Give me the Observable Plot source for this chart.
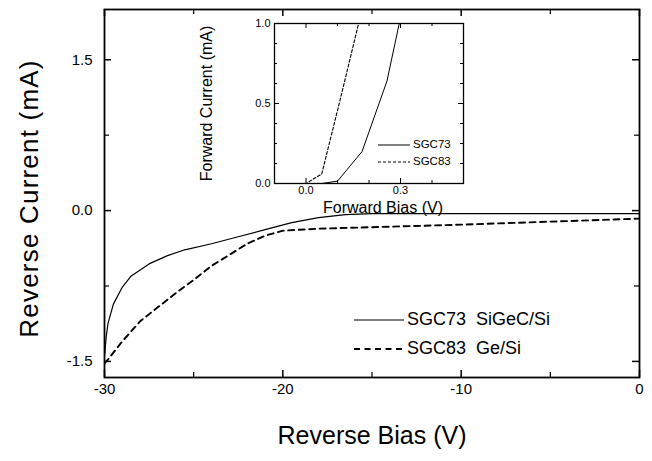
<!DOCTYPE html>
<html><head><meta charset="utf-8">
<script src="https://cdn.jsdelivr.net/npm/d3@7"></script>
<script src="https://cdn.jsdelivr.net/npm/@observablehq/plot@0.6"></script>
<style>
body{margin:0;background:#fff}
#wrap{position:relative;width:652px;height:461px;font-family:"Liberation Sans",Arial,sans-serif;color:#000}
#wrap svg{position:absolute;overflow:visible}
.leg{position:absolute;display:flex;align-items:center;white-space:pre}
</style>
</head><body><div id="wrap"></div>
<script>
// ---- main chart data (reverse bias) ----
const revBias73 = [-30, -29.9, -29.8, -29.5, -29.0, -28.5, -27.5, -26.5, -25.5, -24, -22.5, -21, -19.5, -18, -16.5, -15, -10, -5, 0];
const revCur73  = [-1.45, -1.25, -1.12, -0.93, -0.76, -0.65, -0.53, -0.45, -0.39, -0.33, -0.26, -0.19, -0.12, -0.07, -0.04, -0.03, -0.03, -0.03, -0.03];
const revBias83 = [-30, -29.8, -29, -28, -27, -26, -25, -24, -23, -22, -21, -20, -18, -15, -10, -5, 0];
const revCur83  = [-1.52, -1.48, -1.30, -1.10, -0.96, -0.82, -0.69, -0.55, -0.44, -0.33, -0.25, -0.20, -0.18, -0.165, -0.14, -0.11, -0.08];
const xMajor = [-30, -20, -10, 0];
const xMinor = [-25, -15, -5];
const yMajor = [-1.5, 0, 1.5];
const yMinor = [-0.75, 0.75];
const seriesNames = ["SGC73  SiGeC/Si", "SGC83  Ge/Si"];

// ---- inset data (forward bias) ----
const fwdBias73 = [-0.1, 0.05, 0.10, 0.178, 0.257, 0.296];
const fwdCur73  = [0, 0, 0.015, 0.20, 0.64, 1.0];
const fwdBias83 = [-0.1, 0.0, 0.05, 0.108, 0.167];
const fwdCur83  = [0, 0, 0.06, 0.52, 1.0];
const ixMajor = [0, 0.3];
const ixMinor = [-0.1, 0.1, 0.2, 0.4, 0.5];
const iyMajor = [0, 0.5, 1.0];
const iyMinor = [0.125, 0.25, 0.375, 0.625, 0.75, 0.875];
const insetNames = ["SGC73", "SGC83"];

const zip = (xs, ys) => xs.map((x, i) => ({x, y: ys[i]}));
const font = "'Liberation Sans', Arial, sans-serif";
const wrap = document.getElementById("wrap");

// ---- main plot ----
const W = 652, H = 461, mL = 104, mR = 13, mT = 9, mB = 84;
const pW = W - mL - mR, pH = H - mT - mB;
const main = Plot.plot({
  width: W, height: H, marginLeft: mL, marginRight: mR, marginTop: mT, marginBottom: mB,
  style: {fontFamily: font, fontSize: "15px", background: "transparent", color: "#000"},
  x: {domain: [-30, 0]},
  y: {domain: [-1.66, 2.0]},
  marks: [
    Plot.frame({stroke: "#000", strokeWidth: 1.8}),
    Plot.ruleX(xMajor, {insetTop: pH - 7, strokeWidth: 1.5}),
    Plot.ruleX(xMajor, {insetBottom: pH - 7, strokeWidth: 1.5}),
    Plot.ruleX(xMinor, {insetTop: pH - 5, strokeWidth: 1.2}),
    Plot.ruleX(xMinor, {insetBottom: pH - 5, strokeWidth: 1.2}),
    Plot.ruleY(yMajor, {insetRight: pW - 7, strokeWidth: 1.5}),
    Plot.ruleY(yMajor, {insetLeft: pW - 7, strokeWidth: 1.5}),
    Plot.ruleY(yMinor, {insetRight: pW - 5, strokeWidth: 1.2}),
    Plot.ruleY(yMinor, {insetLeft: pW - 5, strokeWidth: 1.2}),
    Plot.axisX({ticks: xMajor, tickSize: 0, tickPadding: 6, tickFormat: d => String(d), label: null}),
    Plot.axisY({ticks: yMajor, tickSize: 0, tickPadding: 12, tickFormat: d => d.toFixed(1), label: null}),
    Plot.line(zip(revBias73, revCur73), {x: "x", y: "y", stroke: "#000", strokeWidth: 1.2, clip: true}),
    Plot.line(zip(revBias83, revCur83), {x: "x", y: "y", stroke: "#000", strokeWidth: 1.9, strokeDasharray: "6,4.5", clip: true}),
    Plot.text(["Reverse Bias (V)"], {text: d => d, frameAnchor: "bottom", lineAnchor: "middle", textAnchor: "middle", dy: 58, fontSize: 25}),
    Plot.text(["Reverse Current (mA)"], {text: d => d, frameAnchor: "left", textAnchor: "middle", lineAnchor: "middle", dx: -75, dy: 5, rotate: -90, fontSize: 26})
  ]
});
main.style.left = "0px"; main.style.top = "0px";
wrap.appendChild(main);
d3.select(main).selectAll("text").filter(function() { return this.textContent === "Reverse Current (mA)"; })
  .attr("letter-spacing", "1.2px");

// ---- inset plot ----
const iLeft = 190, iTop = 0, iW = 280, iH = 225;
const imL = 84, imR = 7, imT = 23, imB = 42;
const ipW = iW - imL - imR, ipH = iH - imT - imB;
const inset = Plot.plot({
  width: iW, height: iH, marginLeft: imL, marginRight: imR, marginTop: imT, marginBottom: imB,
  style: {fontFamily: font, fontSize: "11px", background: "transparent", color: "#000"},
  x: {domain: [-0.1, 0.5]},
  y: {domain: [0, 1.0]},
  marks: [
    Plot.frame({fill: "#fff", stroke: "none"}),
    Plot.frame({stroke: "#000", strokeWidth: 1.3}),
    Plot.ruleX(ixMajor, {insetTop: ipH - 5}),
    Plot.ruleX(ixMajor, {insetBottom: ipH - 5}),
    Plot.ruleX(ixMinor, {insetTop: ipH - 3}),
    Plot.ruleX(ixMinor, {insetBottom: ipH - 3}),
    Plot.ruleY(iyMajor, {insetRight: ipW - 5}),
    Plot.ruleY(iyMajor, {insetLeft: ipW - 5}),
    Plot.ruleY(iyMinor, {insetRight: ipW - 3}),
    Plot.ruleY(iyMinor, {insetLeft: ipW - 3}),
    Plot.axisX({ticks: ixMajor, tickSize: 0, tickPadding: 3, tickFormat: d => d.toFixed(1), label: null}),
    Plot.axisY({ticks: iyMajor, tickSize: 0, tickPadding: 4, tickFormat: d => d.toFixed(1), label: null}),
    Plot.line(zip(fwdBias73, fwdCur73), {x: "x", y: "y", stroke: "#000", strokeWidth: 1, clip: true}),
    Plot.line(zip(fwdBias83, fwdCur83), {x: "x", y: "y", stroke: "#000", strokeWidth: 1.1, strokeDasharray: "3,2", clip: true}),
    Plot.text(["Forward Bias (V)"], {text: d => d, frameAnchor: "bottom", lineAnchor: "middle", textAnchor: "middle", dy: 24, dx: 14, fontSize: 16}),
    Plot.text(["Forward Current (mA)"], {text: d => d, frameAnchor: "left", textAnchor: "middle", lineAnchor: "middle", dx: -68, rotate: -90, fontSize: 16})
  ]
});
inset.style.left = iLeft + "px"; inset.style.top = iTop + "px";
wrap.appendChild(inset);

// ---- legends ----
function legend(names, dashes, widths, left, tops, lineLen, fs) {
  names.forEach((n, i) => {
    const d = document.createElement("div");
    d.className = "leg";
    d.style.left = left + "px";
    d.style.top = (tops[i] - fs * 0.6) + "px";
    d.style.fontSize = fs + "px";
    d.style.lineHeight = (fs * 1.2) + "px";
    d.innerHTML = `<svg width="${lineLen}" height="6" style="position:static;margin-right:3px"><line x1="0" x2="${lineLen}" y1="3" y2="3" stroke="#000" stroke-width="${widths[i]}" stroke-dasharray="${dashes[i]}"/></svg><span>${n}</span>`;
    wrap.appendChild(d);
  });
}
legend(seriesNames, ["none", "6,4.5"], [1.2, 1.9], 354, [320, 349], 50, 18);
legend(insetNames, ["none", "3,2"], [1, 1.1], 378, [145, 162], 32, 11.5);
</script></body></html>
